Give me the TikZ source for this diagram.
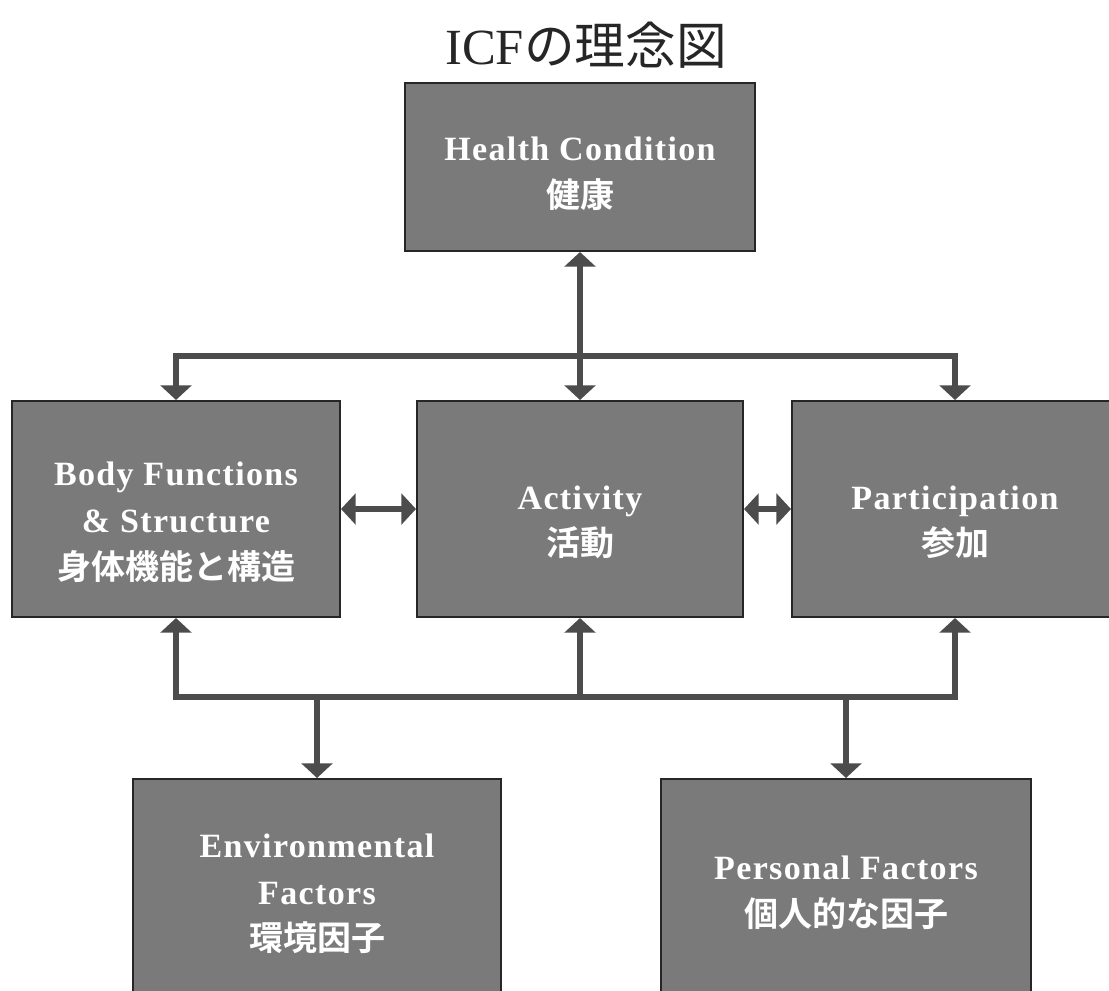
\documentclass[tikz,border=0pt]{standalone}
\usepackage{fontspec}
\setmainfont{Liberation Serif}
\newfontfamily\boxfont{Liberation Serif}[LetterSpace=4]
\newfontfamily\jp{Noto Sans CJK JP}[BoldFont={Noto Sans CJK JP Bold}]
\usetikzlibrary{arrows.meta}

\begin{document}
\begin{tikzpicture}[x=0.75pt,y=-0.75pt,
    >={Triangle[width=23pt,length=11pt]},
    box/.style={draw=black!85,fill=black!52,line width=1.5pt},
    boxtext/.style={text=white,font=\boxfont\bfseries\fontsize{25.5}{35}\selectfont,align=center,inner sep=0pt},
    conn/.style={draw=black!70,line width=4.5pt,line join=miter}]
\useasboundingbox (0,0) rectangle (1109,990);

% title
\node[text=black!85,font=\fontsize{38}{44}\selectfont] (title) at (586,45) {ICF{\jp の理念図}};

% boxes
\node[box,minimum width=263pt,minimum height=126pt] (hc) at (580,167) {};
\node[box,minimum width=246pt,minimum height=162pt] (body) at (176,509) {};
\node[box,minimum width=244.5pt,minimum height=162pt] (act) at (580,509) {};
\node[box,minimum width=244.5pt,minimum height=162pt] (part) at (955,509) {};
\node[box,minimum width=276pt,minimum height=166.5pt] (env) at (317,890) {};
\node[box,minimum width=277.5pt,minimum height=166.5pt] (pf) at (846,890) {};

% texts
\node[boxtext] (hc-t) at ([yshift=-5pt]hc.center) {Health Condition\\{\jp 健康}};
\node[boxtext] (body-t) at ([yshift=-10pt]body.center) {Body Functions\\\& Structure\\{\jp 身体機能と構造}};
\node[boxtext] (act-t) at ([yshift=-10pt]act.center) {Activity\\{\jp 活動}};
\node[boxtext] (part-t) at ([yshift=-10pt]part.center) {Participation\\{\jp 参加}};
\node[boxtext] (env-t) at ([yshift=-3pt]env.center) {Environmental\\Factors\\{\jp 環境因子}};
\node[boxtext] (pf-t) at ([yshift=-2pt]pf.center) {Personal Factors\\{\jp 個人的な因子}};

% connectors
\coordinate (topbar) at (580,356);
\coordinate (botbar) at (580,697);
\draw[conn,<->] (hc.south) -- (act.north);
\draw[conn,<->] (body.north) |- (topbar) -| (part.north);
\draw[conn,<->] (body.south) |- (botbar) -| (part.south);
\draw[conn,->] (botbar) -- (act.south);
\draw[conn,->] (botbar -| env.north) -- (env.north);
\draw[conn,->] (botbar -| pf.north) -- (pf.north);
\draw[conn,<->] (body.east) -- (act.west);
\draw[conn,<->] (act.east) -- (part.west);
\end{tikzpicture}
\end{document}
